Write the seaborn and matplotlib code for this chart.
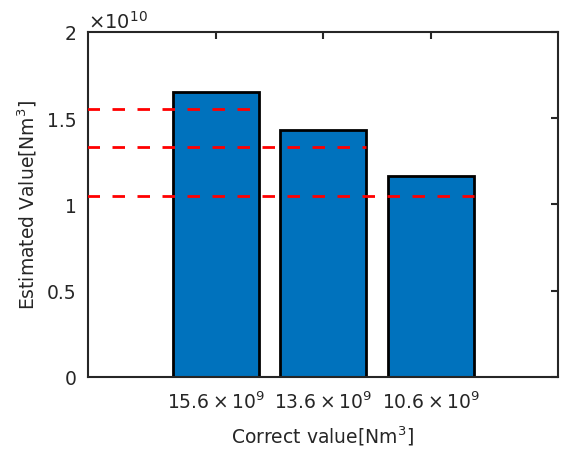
import matplotlib
matplotlib.use('Agg')
import matplotlib.pyplot as plt
import matplotlib.ticker as mticker
import seaborn as sns
import pandas as pd

# values
categories = [r'$15.6\times10^9$', r'$13.6\times10^9$', r'$10.6\times10^9$']
estimated = [1.654e10, 1.434e10, 1.163e10]
correct_lines = [1.552e10, 1.332e10, 1.051e10]

sns.set_theme(style='white')
plt.rcParams['font.family'] = ['DejaVu Sans']
plt.rcParams['mathtext.fontset'] = 'dejavusans'
plt.rcParams['mathtext.default'] = 'regular'

df = pd.DataFrame({'cat': categories, 'val': estimated})

fig = plt.figure(figsize=(5.64, 4.52), dpi=100)
ax = fig.add_axes([0.156, 0.164, 0.833, 0.763])

sns.barplot(data=df, x='cat', y='val', color='#0072BD', saturation=1,
            width=0.8, edgecolor='black', linewidth=2, ax=ax, zorder=2)

# red dashed reference lines
for i, v in enumerate(correct_lines):
    ax.plot([-1.2, i + 0.4], [v, v], color='red', lw=2,
            linestyle=(0, (4.5, 4.5)), zorder=3)

ax.set_xlim(-1.19, 3.18)
ax.set_ylim(0, 2e10)
ax.set_yticks([0, 0.5e10, 1e10, 1.5e10, 2e10])
ax.yaxis.set_major_formatter(mticker.FuncFormatter(lambda v, p: f'{v/1e10:g}'))
ax.text(0.0, 1.0, r'$\times10^{10}$', transform=ax.transAxes,
        ha='left', va='bottom', fontsize=14, color='#262626')

for s in ax.spines.values():
    s.set_visible(True)
    s.set_color('#262626')
    s.set_linewidth(1.5)
ax.tick_params(direction='in', length=5, width=1.5, colors='#262626',
               top=True, right=True, labelsize=13.5, pad=8)
ax.tick_params(axis='x', pad=10)

ax.set_xlabel(r'Correct value[Nm$^3$]', fontsize=13.5, color='#262626', labelpad=8)
ax.set_ylabel(r'Estimated Value[Nm$^3$]', fontsize=13.5, color='#262626', labelpad=6)

fig.savefig('out.png', dpi=100)
